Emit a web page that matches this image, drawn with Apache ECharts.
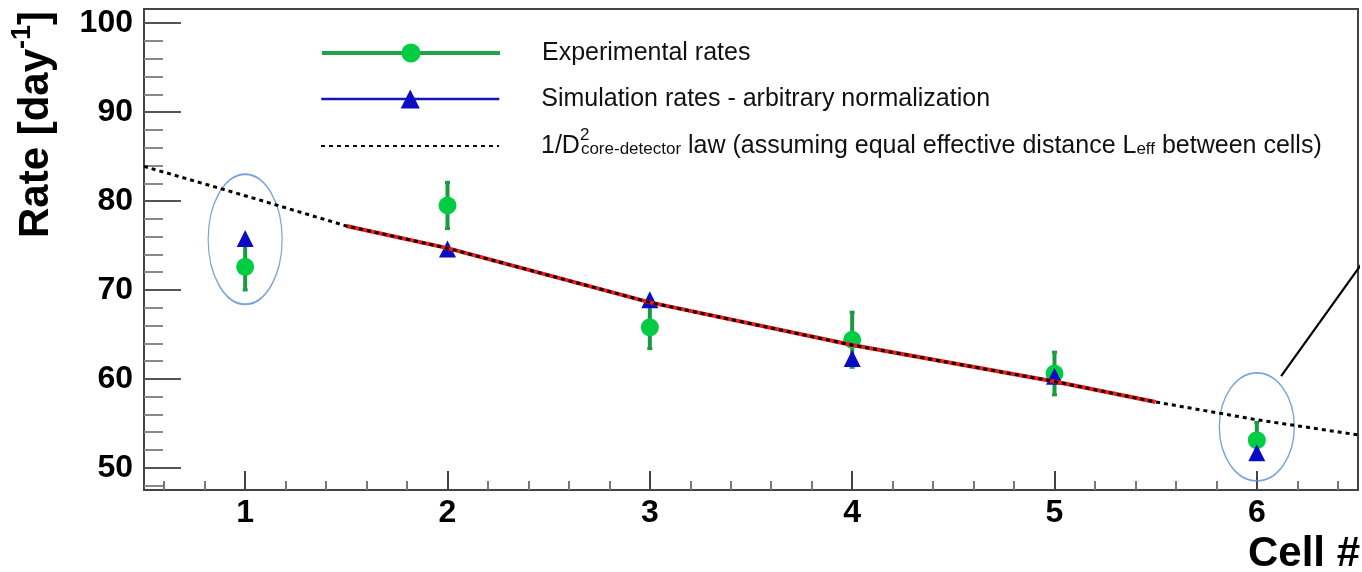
<!DOCTYPE html>
<html>
<head>
<meta charset="utf-8">
<script src="https://cdn.jsdelivr.net/npm/echarts@6/dist/echarts.min.js"></script>
<style>
  html, body { margin: 0; padding: 0; background: #fff; }
  #chart { width: 1362px; height: 572px; }
</style>
</head>
<body>
<div id="chart"></div>
<script>
// ---- data ----
const cells = [1, 2, 3, 4, 5, 6];
const expRates = [72.6, 79.5, 65.8, 64.4, 60.6, 53.1];
const expErrors = [2.6, 2.6, 2.4, 3.1, 2.4, 2.0];
const simRates = [75.8, 74.6, 68.9, 62.3, 60.3, 51.7];

// 1/D^2 law curve (dotted) and fitted section (red)
const lawX = [0.5, 1, 1.5, 2, 3, 4, 5, 5.5, 6, 6.5];
const lawY = [83.9, 80.6, 77.2, 74.7, 68.6, 63.8, 59.7, 57.4, 55.4, 53.7];
const fitX = [1.5, 2, 3, 4, 5, 5.5];
const fitY = [77.2, 74.7, 68.6, 63.8, 59.7, 57.4];

// axis ticks
const xMajorTicks = [1, 2, 3, 4, 5, 6];
const xMinorTicks = [0.6, 0.8, 1.2, 1.4, 1.6, 1.8, 2.2, 2.4, 2.6, 2.8, 3.2, 3.4, 3.6, 3.8,
                     4.2, 4.4, 4.6, 4.8, 5.2, 5.4, 5.6, 5.8, 6.2, 6.4];
const yMajorTicks = [50, 60, 70, 80, 90, 100];
const yMinorTicks = [48, 52, 54, 56, 58, 62, 64, 66, 68, 72, 74, 76, 78,
                     82, 84, 86, 88, 92, 94, 96, 98];

// highlighted cells (ellipse centres) and pointer line ends
const highlightX = [1, 6];
const highlightY = [75.7, 54.6];
const pointerX = [6.12, 6.52];
const pointerY = [60.3, 73.0];

// ---- chart ----
const FONT = '"Liberation Sans", Arial, Helvetica, sans-serif';
const X_RANGE = { min: 0.5, max: 6.5 };
const Y_RANGE = { min: 47.5, max: 101.6 };
const ellipseSizes = [[74, 130], [75, 108]];
const LAW_NAME = 'law';

const zip = (xs, ys) => xs.map((x, i) => [x, ys[i]]);

const chart = echarts.init(document.getElementById('chart'), null, { renderer: 'canvas' });

const legendBase = {
  left: 320,
  padding: 0,
  orient: 'horizontal',
  itemWidth: 178,
  itemHeight: 24,
  selectedMode: false,
  textStyle: { fontFamily: FONT, fontSize: 25, color: '#111', padding: [0, 0, 0, 37], lineHeight: 30 }
};

const option = {
  animation: false,
  backgroundColor: '#fff',
  grid: {
    left: 144, right: 4, top: 9, bottom: 82,
    containLabel: false, outerBoundsMode: 'none',
    show: true, borderColor: '#444', borderWidth: 2, backgroundColor: 'transparent'
  },
  legend: [
    Object.assign({}, legendBase, {
      top: 38,
      data: [{ name: 'Experimental rates', lineStyle: { width: 4, color: '#22a244', opacity: 1 } }]
    }),
    Object.assign({}, legendBase, {
      top: 84,
      data: [{ name: 'Simulation rates - arbitrary normalization', lineStyle: { width: 2.5, color: '#1414c0', opacity: 1 } }]
    }),
    Object.assign({}, legendBase, {
      top: 127,
      data: [{ name: LAW_NAME, itemStyle: { opacity: 0 } }],
      formatter: () => '1/D{sup|2}{sub|core-detector}{t| law (assuming equal effective distance L}{sub|eff}{t| between cells)}',
      textStyle: {
        fontFamily: FONT, fontSize: 25, color: '#111', padding: [0, 0, 0, 37], lineHeight: 38,
        rich: {
          t: { fontFamily: FONT, fontSize: 25, color: '#111', lineHeight: 38 },
          sup: { fontFamily: FONT, fontSize: 17, color: '#111', lineHeight: 16, verticalAlign: 'top', width: 1 },
          sub: { fontFamily: FONT, fontSize: 17, color: '#111', padding: [6, 0, 0, 0] }
        }
      }
    })
  ],
  xAxis: [
    {
      type: 'value', min: X_RANGE.min, max: X_RANGE.max, position: 'bottom',
      axisLine: { lineStyle: { color: '#444', width: 2 } },
      axisTick: { inside: true, length: 19, customValues: xMajorTicks, lineStyle: { color: '#444', width: 2 } },
      axisLabel: { customValues: xMajorTicks, fontFamily: FONT, fontSize: 32, fontWeight: 'bold', color: '#000', margin: 7 },
      splitLine: { show: false },
      name: 'Cell #', nameLocation: 'end', nameGap: 2, nameMoveOverlap: false,
      nameTextStyle: { fontFamily: FONT, fontSize: 42, fontWeight: 'bold', color: '#000',
                       align: 'right', verticalAlign: 'top', lineHeight: 46, padding: [41, 0, 0, 0] }
    },
    {
      type: 'value', min: X_RANGE.min, max: X_RANGE.max, position: 'bottom',
      axisLine: { show: false },
      axisTick: { inside: true, length: 9, customValues: xMinorTicks, lineStyle: { color: '#777', width: 2 } },
      axisLabel: { show: false },
      splitLine: { show: false }
    }
  ],
  yAxis: [
    {
      type: 'value', min: Y_RANGE.min, max: Y_RANGE.max, position: 'left',
      axisLine: { lineStyle: { color: '#444', width: 2 } },
      axisTick: { inside: true, length: 37, customValues: yMajorTicks, lineStyle: { color: '#555', width: 2 } },
      axisLabel: { customValues: yMajorTicks, fontFamily: FONT, fontSize: 32, fontWeight: 'bold', color: '#000', margin: 11 },
      splitLine: { show: false },
      name: 'Rate [day{sup|-1}]', nameLocation: 'middle', nameRotate: 90, nameGap: 81, nameMoveOverlap: false,
      nameTextStyle: {
        fontFamily: FONT, fontSize: 42, fontWeight: 'bold', color: '#000', lineHeight: 54,
        padding: [0, 0, 0, 250],
        rich: { sup: { fontFamily: FONT, fontSize: 27, fontWeight: 'bold', color: '#000', lineHeight: 30, verticalAlign: 'top' } }
      }
    },
    {
      type: 'value', min: Y_RANGE.min, max: Y_RANGE.max, position: 'left',
      axisLine: { show: false },
      axisTick: { inside: true, length: 19, customValues: yMinorTicks, lineStyle: { color: '#888', width: 2 } },
      axisLabel: { show: false },
      splitLine: { show: false }
    }
  ],
  series: [
    {
      // ellipses marking cells 1 and 6
      type: 'scatter', silent: true, z: 1,
      symbol: 'circle',
      data: zip(highlightX, highlightY).map((p, i) => ({ value: p, symbolSize: ellipseSizes[i] })),
      itemStyle: { color: 'rgba(0,0,0,0)', borderColor: '#5a8ecf', borderWidth: 1.6 }
    },
    {
      // error bars on the experimental rates
      type: 'custom', silent: true, z: 2,
      data: cells.map((c, i) => [c, expRates[i], expErrors[i]]),
      renderItem: (params, api) => {
        const x = api.value(0), v = api.value(1), e = api.value(2);
        const lo = api.coord([x, v - e]);
        const hi = api.coord([x, v + e]);
        return {
          type: 'group',
          children: [
            { type: 'line', shape: { x1: lo[0], y1: lo[1], x2: hi[0], y2: hi[1] },
              style: { stroke: '#1c9a3f', lineWidth: 4 } },
            { type: 'line', shape: { x1: lo[0] - 2.5, y1: lo[1], x2: lo[0] + 2.5, y2: lo[1] },
              style: { stroke: '#1c9a3f', lineWidth: 3 } },
            { type: 'line', shape: { x1: hi[0] - 2.5, y1: hi[1], x2: hi[0] + 2.5, y2: hi[1] },
              style: { stroke: '#1c9a3f', lineWidth: 3 } }
          ]
        };
      }
    },
    {
      name: 'Experimental rates',
      type: 'line', z: 3, silent: true,
      data: zip(cells, expRates),
      symbol: 'circle', symbolSize: 18, showSymbol: true,
      itemStyle: { color: '#00cc44' },
      lineStyle: { width: 0, opacity: 0 }
    },
    {
      name: 'Simulation rates - arbitrary normalization',
      type: 'line', z: 4, silent: true,
      data: zip(cells, simRates),
      symbol: 'triangle', symbolSize: 17, showSymbol: true,
      itemStyle: { color: '#0c0cc4' },
      lineStyle: { width: 0, opacity: 0 }
    },
    {
      // fitted range of the law
      type: 'line', z: 5, silent: true,
      data: zip(fitX, fitY),
      symbol: 'none',
      lineStyle: { color: '#f01818', width: 4 }
    },
    {
      name: LAW_NAME,
      type: 'line', z: 6, silent: true,
      data: zip(lawX, lawY),
      symbol: 'none',
      lineStyle: { color: '#000', width: 3, type: [4, 4] }
    },
    {
      // pointer line leading off to the right
      type: 'line', z: 6, silent: true, clip: false,
      data: zip(pointerX, pointerY),
      symbol: 'none',
      lineStyle: { color: '#000', width: 2.2 }
    }
  ]
};

chart.setOption(option);
</script>
</body>
</html>
